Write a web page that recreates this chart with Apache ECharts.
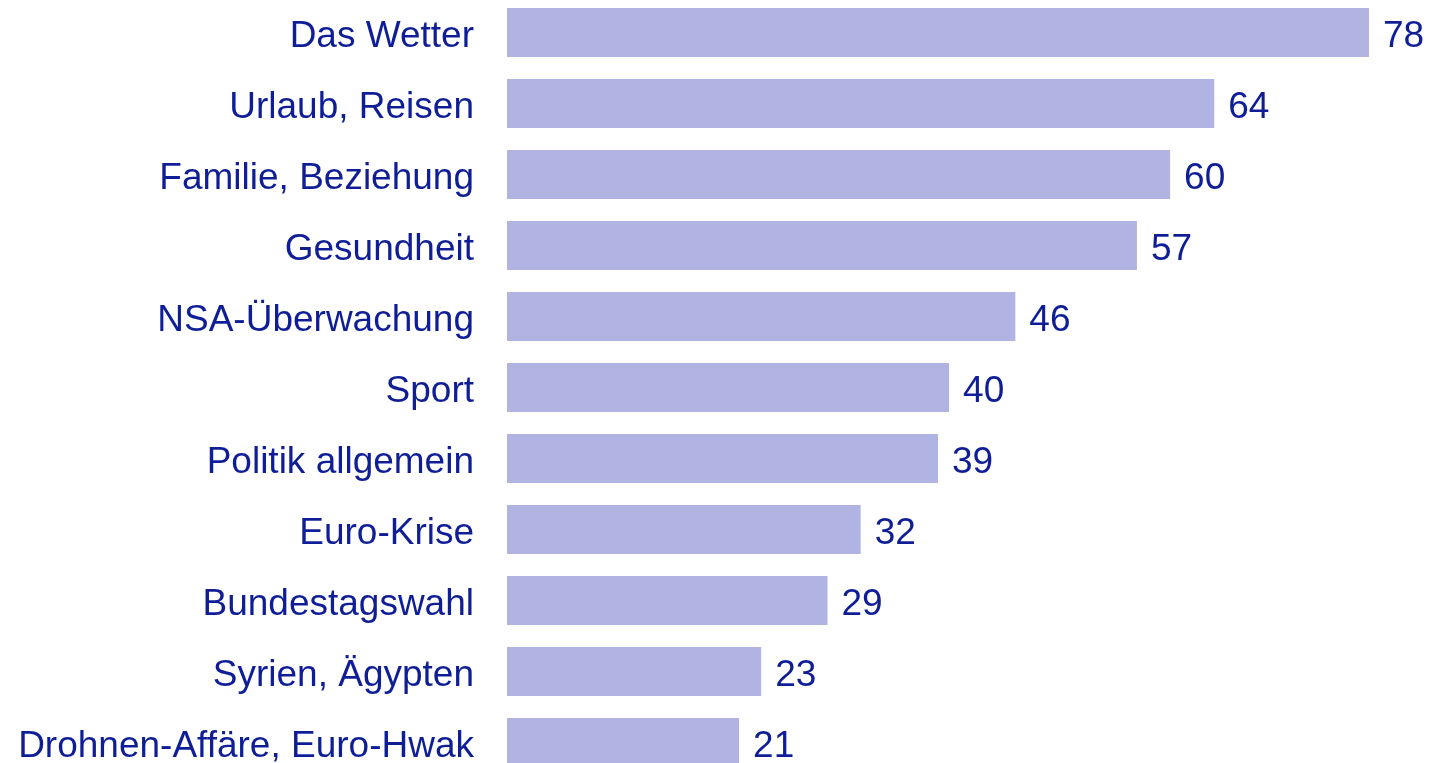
<!DOCTYPE html>
<html>
<head>
<meta charset="utf-8">
<script src="https://cdn.jsdelivr.net/npm/echarts@6/dist/echarts.min.js"></script>
<style>
  html, body { margin: 0; padding: 0; background: #fff; }
  #chart { width: 1430px; height: 763px; }
</style>
</head>
<body>
<div id="chart"></div>
<script>
const categories = [
  'Das Wetter',
  'Urlaub, Reisen',
  'Familie, Beziehung',
  'Gesundheit',
  'NSA-Überwachung',
  'Sport',
  'Politik allgemein',
  'Euro-Krise',
  'Bundestagswahl',
  'Syrien, Ägypten',
  'Drohnen-Affäre, Euro-Hwak'
];
const values = [78, 64, 60, 57, 46, 40, 39, 32, 29, 23, 21];

const textColor = '#0f1e96';
const barColor = '#b1b3e3';

// text sits a few px below the bar middle in the original
const lowered = {
  t: {
    color: textColor,
    fontFamily: 'Liberation Sans, Arial, sans-serif',
    fontSize: 37,
    padding: [8, 0, 0, 0]
  }
};

const option = {
  animation: false,
  grid: { left: 507, right: 61, top: -3, height: 781, outerBoundsMode: 'none' },
  xAxis: {
    type: 'value',
    min: 0,
    max: 78,
    show: false
  },
  yAxis: {
    type: 'category',
    data: categories,
    inverse: true,
    axisLine: { show: false },
    axisTick: { show: false },
    splitLine: { show: false },
    axisLabel: {
      margin: 33,
      formatter: '{t|{value}}',
      rich: lowered
    }
  },
  series: [{
    type: 'bar',
    data: values,
    barWidth: 49,
    itemStyle: { color: barColor },
    label: {
      show: true,
      position: 'right',
      distance: 14,
      formatter: '{t|{c}}',
      rich: lowered
    }
  }]
};

const myChart = echarts.init(document.getElementById('chart'));
myChart.setOption(option);
window.addEventListener('resize', function () {
  myChart.resize();
});
</script>
</body>
</html>
